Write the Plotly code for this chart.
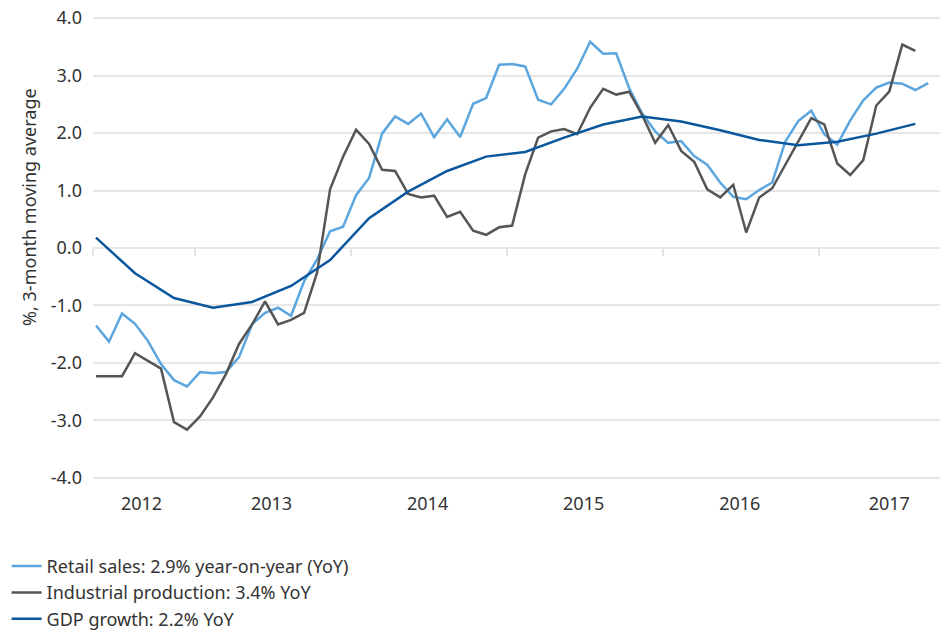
import plotly.graph_objects as go

# monthly, 3-month moving average, %
retail = [
    -1.35, -1.63, -1.14, -1.32, -1.62, -2.02, -2.30, -2.41, -2.16, -2.18,
    -2.16, -1.90, -1.33, -1.13, -1.04, -1.18, -0.58, -0.20, 0.29, 0.37,
    0.92, 1.22, 1.99, 2.29, 2.16, 2.34, 1.93, 2.24, 1.93, 2.51,
    2.61, 3.19, 3.20, 3.16, 2.58, 2.50, 2.77, 3.12, 3.59, 3.38,
    3.39, 2.78, 2.34, 2.03, 1.83, 1.86, 1.60, 1.45, 1.14, 0.89,
    0.85, 1.01, 1.14, 1.85, 2.21, 2.39, 1.98, 1.80, 2.22, 2.57,
    2.79, 2.88, 2.86, 2.75, 2.87,
]
industrial = [
    -2.23, -2.23, -2.23, -1.83, -1.96, -2.10, -3.03, -3.16, -2.93, -2.60,
    -2.19, -1.67, -1.33, -0.93, -1.33, -1.25, -1.13, -0.43, 1.02, 1.59,
    2.06, 1.81, 1.36, 1.34, 0.94, 0.88, 0.91, 0.54, 0.63, 0.30,
    0.23, 0.36, 0.39, 1.28, 1.92, 2.03, 2.07, 1.98, 2.44, 2.77,
    2.67, 2.72, 2.31, 1.83, 2.14, 1.69, 1.50, 1.02, 0.88, 1.10,
    0.27, 0.88, 1.04, 1.45, 1.85, 2.26, 2.15, 1.47, 1.27, 1.53,
    2.48, 2.72, 3.54, 3.43,
]
# quarterly
gdp = [
    0.18, -0.44, -0.87, -1.04, -0.94, -0.66, -0.21, 0.52, 0.98, 1.34, 1.59,
    1.67, 1.92, 2.15, 2.29, 2.20, 2.05, 1.88, 1.79, 1.85, 1.99, 2.16,
]

retail_month = list(range(len(retail)))
industrial_month = list(range(len(industrial)))
gdp_month = list(range(0, 3 * len(gdp), 3))

year_labels = ["2012", "2013", "2014", "2015", "2016", "2017"]
year_label_pos = [3.5, 13.5, 25.5, 37.5, 49.5, 61.0]
year_bounds = [-0.2, 7.6, 19.6, 31.6, 43.6, 55.6]

y_ticks = [-4, -3, -2, -1, 0, 1, 2, 3, 4]
y_ticktext = ["-4.0", "-3.0", "-2.0", "-1.0", "0.0", "1.0", "2.0", "3.0", "4.0"]

font = "Noto Sans"
x_range = [-0.23, 64.9]
y_range = [-4.02, 4.02]

fig = go.Figure()
fig.add_trace(go.Scatter(
    x=retail_month, y=retail, mode="lines",
    name="Retail sales: 2.9% year-on-year (YoY)",
    line=dict(color="#5ba6de", width=2.5), legendgroup="a",
))
fig.add_trace(go.Scatter(
    x=industrial_month, y=industrial, mode="lines",
    name="Industrial production: 3.4% YoY",
    line=dict(color="#555555", width=2.5), legendgroup="b",
))
fig.add_trace(go.Scatter(
    x=gdp_month, y=gdp, mode="lines",
    name="GDP growth: 2.2% YoY",
    line=dict(color="#0b579d", width=2.5), legendgroup="c",
    xaxis="x2",
))

fig.update_layout(
    width=940, height=630,
    margin=dict(l=93, r=0, t=17, b=151, autoexpand=False),
    paper_bgcolor="white", plot_bgcolor="white",
    font=dict(family=font, size=18, color="#333333"),
    xaxis=dict(
        range=x_range, tickvals=year_label_pos, ticktext=year_labels,
        ticks="", showgrid=False, zeroline=False, showline=False,
        ticklabelstandoff=12, ticklabeloverflow="allow",
    ),
    # tick marks sitting on the zero line, at the year boundaries
    xaxis2=dict(
        range=x_range, overlaying="x", anchor="free",
        position=(0 - y_range[0]) / (y_range[1] - y_range[0]),
        tickvals=year_bounds, ticks="outside", ticklen=7, tickwidth=2,
        tickcolor="#e3e3e3", showticklabels=False, showgrid=False,
        zeroline=False, showline=False,
    ),
    yaxis=dict(
        range=y_range, tickvals=y_ticks, ticktext=y_ticktext,
        showgrid=True, gridcolor="#e6e6e6", gridwidth=2,
        zeroline=False, showline=False, ticklabelstandoff=10,
        ticklabeloverflow="allow",
    ),
    showlegend=True,
    legend=dict(
        x=-0.102, y=-0.149, xanchor="left", yanchor="top",
        traceorder="grouped", tracegroupgap=0,
        font=dict(family=font, size=18, color="#333333"),
        bgcolor="rgba(0,0,0,0)",
    ),
    annotations=[dict(
        text="%, 3-month moving average", textangle=-90,
        xref="paper", yref="paper", x=-0.075, y=0.59,
        xanchor="center", yanchor="middle", showarrow=False,
        font=dict(family=font, size=18, color="#333333"),
    )],
)

# drop the default 8px page margin so the figure fills the window
fig.write_html(
    "out.html",
    config={"displayModeBar": False},
    post_script="document.body.style.margin = '0';",
)
